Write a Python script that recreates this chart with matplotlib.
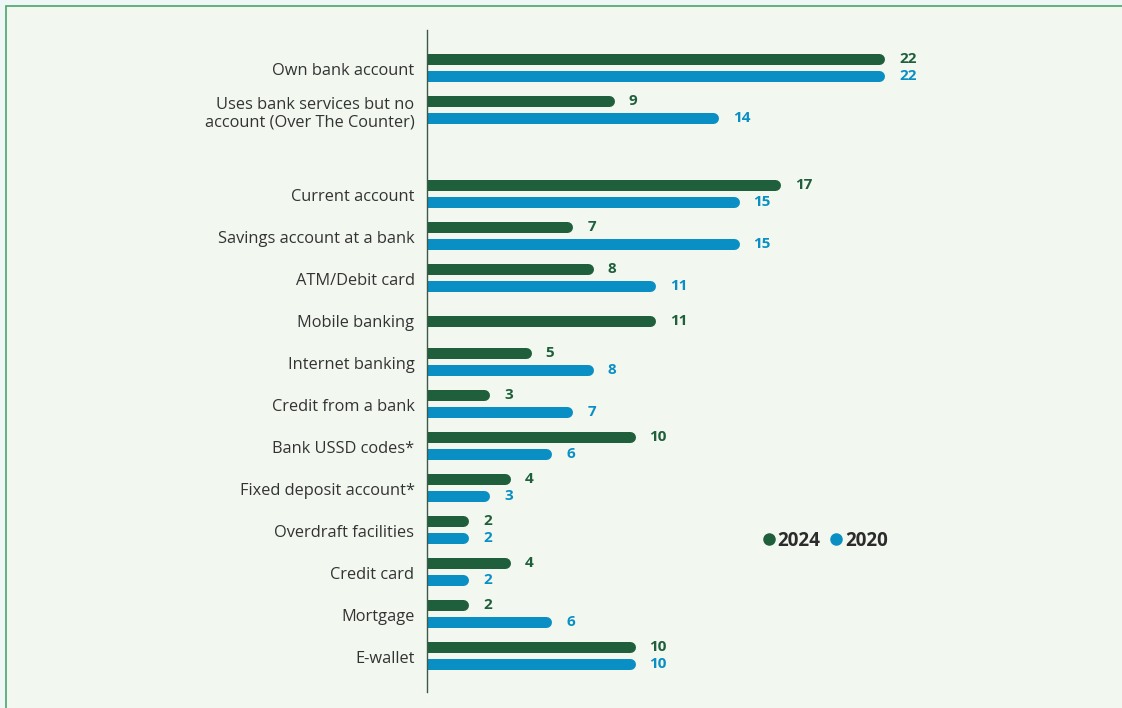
import matplotlib.pyplot as plt
from matplotlib.patches import Rectangle
from matplotlib.lines import Line2D

# categories (top to bottom) and their row slot (row 2 is left blank)
categories = ["Own bank account",
              "Uses bank services but no\naccount (Over The Counter)",
              "Current account", "Savings account at a bank", "ATM/Debit card",
              "Mobile banking", "Internet banking", "Credit from a bank",
              "Bank USSD codes*", "Fixed deposit account*", "Overdraft facilities",
              "Credit card", "Mortgage", "E-wallet"]
rows = [0, 1, 3, 4, 5, 6, 7, 8, 9, 10, 11, 12, 13, 14]
v2024 = [22, 9, 17, 7, 8, 11, 5, 3, 10, 4, 2, 4, 2, 10]
v2020 = [22, 14, 15, 15, 11, None, 8, 7, 6, 3, 2, 2, 6, 10]

green = "#1f5f3b"
blue = "#0a8fc4"
txt = "#333333"
plt.rcParams['font.family'] = ['Open Sans', 'DejaVu Sans']

W, H = 1122, 708
fig = plt.figure(figsize=(W / 100, H / 100), dpi=100)
fig.patch.set_facecolor("#eef7f6")
fig.patches.append(Rectangle((6 / W, -0.02), 1.0, 1 - 6 / H + 0.02, transform=fig.transFigure,
                             facecolor="#f2f7f0", edgecolor="#4aa66c", linewidth=1.2, zorder=-5))

ax = fig.add_axes([427 / W, 1 - 692 / H, (1100 - 427) / W, (692 - 30) / H])
ax.set_facecolor("none")
ppu = 20.8  # pixels per unit
ax.set_xlim(0, (1100 - 427) / ppu)
ax.set_ylim(14 + 35 / 42, -39 / 42)

bar_px = 11
lw = bar_px * 72 / 100
r = bar_px / 2 / ppu

for cat, y, a, b in zip(categories, rows, v2024, v2020):
    ya = y - 0.24 if b is not None else y
    ax.plot([0, a - r], [ya, ya], color=green, lw=lw, solid_capstyle='round')
    ax.text(a + 0.7, ya, str(a), color=green, fontsize=11, fontweight='bold', va='center', ha='left')
    if b is not None:
        yb = y + 0.17
        ax.plot([0, b - r], [yb, yb], color=blue, lw=lw, solid_capstyle='round')
        ax.text(b + 0.7, yb, str(b), color=blue, fontsize=11, fontweight='bold', va='center', ha='left')

ax.set_yticks(rows)
ax.set_yticklabels(categories, fontsize=11.8, color=txt, ha='right', linespacing=1.15)
ax.set_xticks([])
ax.tick_params(axis='y', length=0, pad=9)
for s in ['top', 'right', 'bottom']:
    ax.spines[s].set_visible(False)
ax.spines['left'].set_color("#3c5a48")
ax.spines['left'].set_linewidth(1.0)

handles = [Line2D([], [], marker='o', ls='', color=green, markersize=8, label='2024'),
           Line2D([], [], marker='o', ls='', color=blue, markersize=8, label='2020')]
leg = fig.legend(handles=handles, loc='center left', bbox_to_anchor=(757 / W, 1 - 541 / H),
                 ncol=2, frameon=False, handlelength=0.5, handletextpad=0.2, columnspacing=0.6,
                 borderaxespad=0, prop={'weight': 'bold', 'size': 13.5})
for t in leg.get_texts():
    t.set_color("#2b2b2b")

fig.savefig("out.png", dpi=100, facecolor=fig.get_facecolor())
